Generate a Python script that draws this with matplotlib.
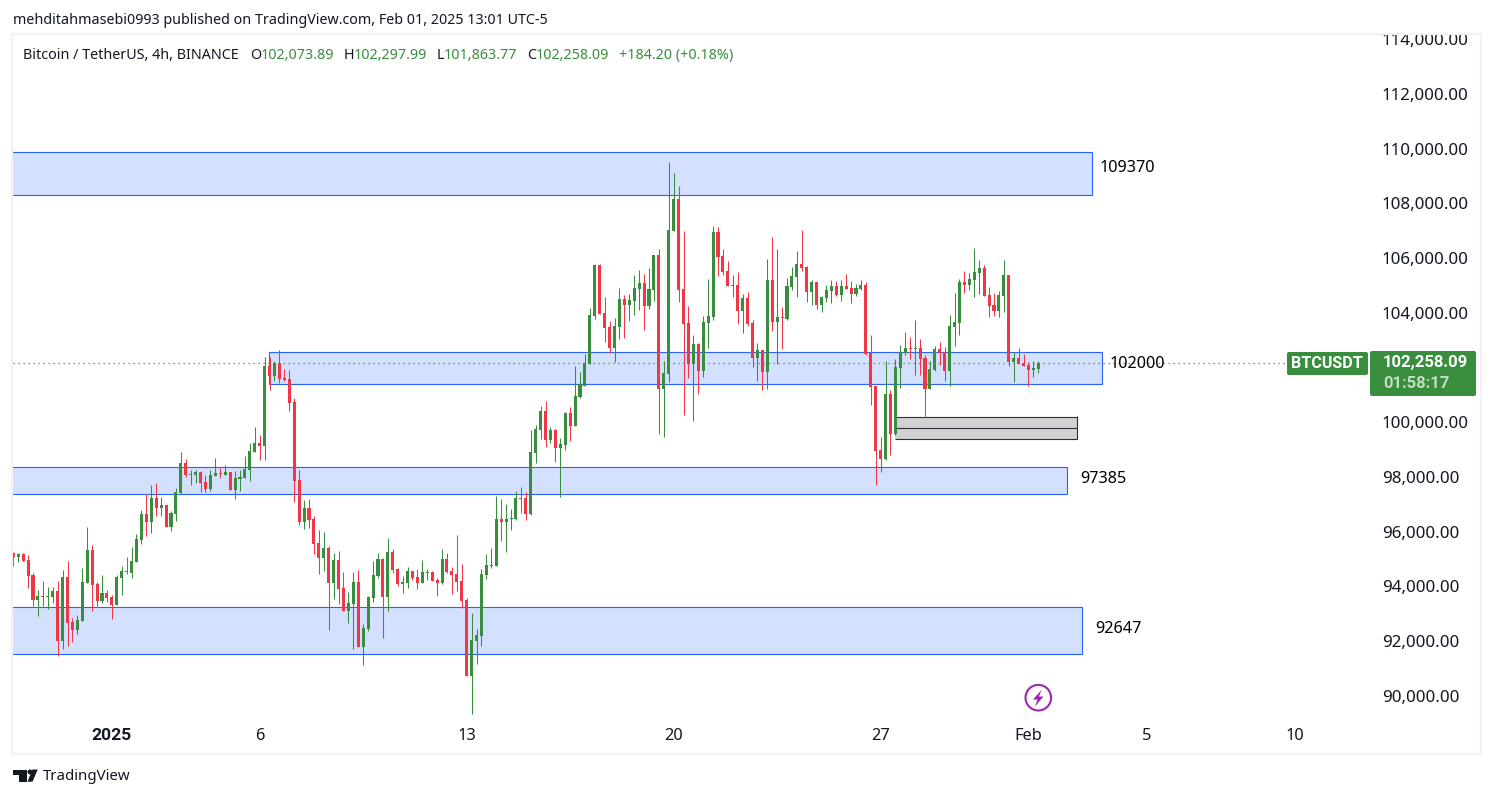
import matplotlib
matplotlib.use("Agg")
import matplotlib.pyplot as plt
from matplotlib.patches import Rectangle, FancyBboxPatch, Circle, Polygon

plt.rcParams['font.family'] = ['Noto Sans', 'DejaVu Sans']

# 4h candles
opens = [95210, 95080, 95190, 94970, 94420, 93510, 93650, 93620, 93620, 93840,
         92010, 94350, 92700, 92410, 92740, 94130, 95330, 94090, 93470, 93760,
         93620, 93320, 94310, 94570, 94490, 94900, 95700, 96650, 96360, 97230,
         96870, 96980, 96170, 96650, 97420, 98510, 98070, 98070, 98180, 97820,
         97560, 98040, 98150, 98070, 98180, 97530, 97930, 97960, 98260, 98910,
         99240, 99130, 102060, 101690, 102170, 101620, 101580, 100740, 97890, 96360,
         96870, 96470, 95590, 95040, 95410, 94130, 94970, 93950, 93100, 93360,
         94170, 91790, 92450, 93580, 94380, 95000, 93620, 95260, 94640, 94090,
         94130, 94570, 94350, 94130, 94490, 94530, 94240, 94130, 95000, 94570,
         94460, 94200, 93510, 90730, 92010, 92190, 94420, 94750, 94750, 96470,
         96360, 96470, 96470, 97230, 97230, 96650, 98880, 99720, 100410, 99350,
         99720, 99060, 99170, 100340, 99860, 100920, 101320, 102130, 103880, 105750,
         103990, 103480, 102710, 103480, 104500, 104280, 104430, 104870, 105090, 104250,
         104830, 106110, 101220, 101760, 106990, 108160, 104870, 103630, 102130, 102860,
         101870, 103630, 103850, 106950, 106070, 105530, 104980, 105010, 104060, 104540,
         103630, 102350, 102640, 101840, 105200, 103660, 103850, 103770, 104940, 105310,
         105780, 105670, 104760, 105120, 104280, 104540, 104790, 104980, 104650, 104980,
         104900, 104690, 104870, 105010, 102530, 101320, 98990, 98660, 101030, 99570,
         101980, 102530, 102710, 102680, 102710, 102350, 101210, 101910, 102680, 102570,
         101870, 103480, 103630, 105120, 105010, 105200, 105450, 105630, 104650, 104280,
         104060, 104610, 105380, 102200, 102350, 102160, 102090, 101910, 101950]
highs = [95260, 95210, 95210, 95150, 94490, 93870, 94200, 93980, 93980, 94200,
         94600, 94930, 92850, 92960, 94680, 96170, 95520, 94170, 94420, 93870,
         93690, 94420, 94750, 95080, 95440, 95920, 96800, 97380, 97710, 97780,
         97270, 96980, 96760, 97600, 98910, 98660, 98260, 98260, 98220, 98070,
         98260, 98690, 98330, 98440, 98180, 98220, 98260, 98770, 99240, 99830,
         99530, 102380, 102380, 102240, 102640, 101950, 101910, 100890, 98260, 97160,
         97200, 96580, 96060, 95990, 95480, 95220, 95300, 94530, 93800, 94530,
         94600, 92630, 93650, 94930, 95220, 95040, 95770, 95370, 94680, 94380,
         94710, 94570, 94640, 94970, 94640, 94570, 94310, 95370, 95220, 94710,
         95880, 94820, 93580, 93030, 92450, 94640, 95190, 95410, 97310, 97200,
         97010, 96830, 97490, 97640, 97450, 99720, 99900, 100590, 100780, 99830,
         99760, 99430, 100380, 100560, 102060, 101840, 102490, 104170, 105780, 105780,
         104580, 103700, 103810, 104900, 104650, 104690, 105380, 105560, 105420, 105640,
         106110, 106330, 102240, 109510, 109110, 108630, 106990, 104250, 103190, 102900,
         103880, 105230, 107170, 107130, 106330, 105890, 105380, 105490, 104690, 104760,
         103740, 102900, 102640, 105960, 106770, 106330, 104210, 105270, 105670, 106260,
         107020, 105710, 105200, 105120, 104610, 105010, 105200, 105160, 105200, 105420,
         105160, 105050, 105200, 105120, 103190, 101320, 99460, 102240, 101180, 102310,
         102820, 103300, 103110, 103740, 103040, 102460, 102240, 102790, 102930, 102750,
         103920, 104720, 105230, 105530, 105450, 106370, 105930, 105740, 104940, 104720,
         104790, 105930, 105380, 102570, 102710, 102490, 102200, 102240, 102240]
lows = [94750, 94900, 94930, 93950, 93290, 92920, 93290, 93180, 93400, 91460,
        91720, 91830, 91970, 92260, 92740, 94130, 93100, 93290, 93400, 93430,
        92810, 93320, 93690, 94460, 94310, 94900, 95550, 95850, 95960, 96580,
        96580, 96170, 96030, 96390, 97380, 98000, 97710, 97780, 97450, 97450,
        97490, 98040, 97960, 98070, 97530, 97200, 97490, 97960, 97850, 98910,
        98620, 98620, 101180, 101510, 101430, 101510, 100410, 97090, 96250, 96100,
        96140, 95190, 94460, 94570, 92410, 93540, 93360, 93100, 92670, 91720,
        91790, 91130, 92370, 93430, 94310, 92120, 93100, 94490, 94020, 93760,
        93950, 94240, 93910, 94130, 94240, 94200, 93650, 94090, 94490, 93730,
        93840, 93220, 90730, 89340, 91170, 91830, 94270, 94680, 94750, 95660,
        95260, 96060, 96430, 96690, 96430, 96600, 98510, 99390, 99100, 99240,
        98550, 97270, 98990, 99320, 99860, 100890, 101320, 102130, 103770, 103950,
        102930, 102530, 102200, 103040, 103080, 103700, 103920, 104100, 103370, 104140,
        104430, 99570, 99460, 101470, 106990, 104390, 100270, 101620, 100050, 101030,
        101650, 102710, 103740, 105340, 105380, 104980, 104580, 103590, 103260, 103520,
        102020, 101510, 101180, 101210, 103330, 102130, 102680, 103740, 104830, 104580,
        105530, 104390, 104280, 104140, 104030, 104390, 104360, 104610, 104430, 104870,
        104360, 104610, 104830, 102460, 100630, 97710, 98180, 98620, 98800, 99530,
        101250, 102460, 102310, 101730, 101730, 100190, 101210, 101870, 102090, 101510,
        101320, 102790, 103190, 104720, 104830, 104580, 104680, 104610, 103840, 103880,
        103840, 104030, 102050, 101470, 102130, 102050, 101320, 101650, 101800]
closes = [95090, 95190, 94930, 94380, 93510, 93650, 93620, 93650, 93840, 92010,
          94350, 92670, 92410, 92780, 94170, 95330, 94050, 93470, 93760, 93580,
          93320, 94350, 94570, 94530, 94930, 95740, 96650, 96360, 97230, 96870,
          96980, 96170, 96690, 97450, 98510, 98070, 98110, 98180, 97780, 97560,
          98070, 98150, 98110, 98180, 97530, 97960, 98000, 98290, 98950, 99240,
          99130, 102060, 101690, 102170, 101580, 101540, 100700, 97850, 96360, 96870,
          96430, 95550, 95040, 95410, 94130, 94970, 93910, 93100, 93400, 94170,
          91790, 92480, 93620, 94420, 95000, 93620, 95260, 94600, 94090, 94170,
          94570, 94310, 94130, 94530, 94530, 94200, 94130, 95000, 94530, 94420,
          94170, 93470, 90730, 92050, 92230, 94460, 94790, 94790, 96470, 96360,
          96470, 96500, 97230, 97200, 96650, 98910, 99750, 100410, 99350, 99720,
          99060, 99210, 100340, 99860, 100960, 101390, 102170, 103920, 105750, 103950,
          103440, 102710, 103520, 104500, 104280, 104470, 104900, 105090, 104250, 104870,
          106110, 101220, 101800, 107020, 108160, 104830, 103590, 102130, 102860, 101870,
          103660, 103880, 106950, 106040, 105490, 104980, 105010, 104060, 104540, 103590,
          102350, 102640, 101840, 105200, 103660, 103850, 103810, 104980, 105340, 105780,
          105640, 104760, 105120, 104280, 104580, 104830, 104980, 104650, 104980, 104870,
          104690, 104900, 105010, 102490, 101290, 98950, 98660, 101030, 99570, 102020,
          102570, 102710, 102680, 102710, 102310, 101210, 101950, 102680, 102530, 101870,
          103520, 103660, 105120, 105010, 105230, 105490, 105630, 104610, 104250, 104060,
          104650, 105380, 102200, 102350, 102130, 102050, 101910, 101980, 102160]

# candle index where each date label sits
date_pos = [20, 50, 92, 134, 176, 206, 230, 260]
date_labels = ['2025', '6', '13', '20', '27', 'Feb', '5', '10']
# 102,000 is hidden behind the price tag on the scale
price_ticks = [90000, 92000, 94000, 96000, 98000, 100000, 104000, 106000, 108000, 110000, 112000, 114000]

# supply/demand zones: candle index start, end, price low, high
zone_start = [-5, 51.9, -5, -5]
zone_end = [218.9, 220.9, 213.8, 216.9]
zone_low = [108300, 101400, 97380, 91530]
zone_high = [109870, 102570, 98370, 93250]
grey_box = [178.9, 215.9, 99390, 99790, 100190]

green = '#388e3c'
red = '#f23645'
blue = '#2962ff'
ink = '#131722'

W, H = 1494, 798
fig = plt.figure(figsize=(W / 100, H / 100), dpi=100, facecolor='white')

# price pane, placed by pixels
L, R, T, B = 13, 1370, 34, 720
ax = fig.add_axes([L / W, 1 - B / H, (R - L) / W, (B - T) / H])
ax.set_xlim(-0.06, 275.3)
ax.set_ylim(89123, 114183)
for s in ax.spines.values():
    s.set_visible(False)

for i in range(len(zone_start)):
    ax.add_patch(Rectangle((zone_start[i], zone_low[i]), zone_end[i] - zone_start[i],
                           zone_high[i] - zone_low[i], fc='#d4e0ff', ec=blue, lw=0.8, zorder=1))

x0, x1, b_lo, b_mid, b_hi = grey_box
ax.add_patch(Rectangle((x0, b_lo), x1 - x0, b_hi - b_lo, fc='#d1d1d3', ec='none', zorder=1))
ax.hlines([b_lo, b_mid, b_hi], x0, x1, color='#2a2e39', lw=0.8, zorder=2)
ax.vlines(x1, b_lo, b_hi + 40, color='#2a2e39', lw=0.8, zorder=2)

xs = list(range(len(opens)))
colors = [green if c >= o else red for o, c in zip(opens, closes)]
ax.vlines(xs, lows, highs, colors=colors, lw=0.75, zorder=3)
ax.bar(xs, [abs(c - o) for o, c in zip(opens, closes)], bottom=[min(o, c) for o, c in zip(opens, closes)],
       width=0.62, color=colors, lw=0, zorder=4, antialiased=False)

ax.axhline(closes[-1], xmax=(1286 - L) / (R - L), color=green, lw=0.9, ls=(0, (1, 3)), zorder=5)

ax.yaxis.tick_right()
ax.set_yticks(price_ticks)
ax.set_yticklabels([f'{p:,.2f}' for p in price_ticks], fontsize=12.2, color=ink)
ax.set_xticks(date_pos)
ax.set_xticklabels(date_labels, fontsize=11.8, color=ink)
ax.tick_params(axis='both', length=0)
ax.tick_params(axis='x', pad=6)
ax.tick_params(axis='y', pad=8.6)
first = ax.get_xticklabels()[0]
first.set_family('Roboto')
first.set_fontweight('bold')
first.set_fontsize(12.6)

# overlay in pixel coordinates for the page furniture
ov = fig.add_axes([0, 0, 1, 1], facecolor='none')
ov.set_xlim(0, W)
ov.set_ylim(H, 0)
ov.axis('off')

frame = '#f2f2f3'
ov.plot([12, 12, 1481, 1481, 12], [34, 754, 754, 34, 34], color=frame, lw=1.6)

ov.text(13, 24.5, 'mehditahmasebi0993 published on TradingView.com, Feb 01, 2025 13:01 UTC-5',
        fontsize=10.25, color=ink, va='baseline')

hdr = [(23, 'Bitcoin / TetherUS, 4h, BINANCE', ink), (250, 'O', ink), (261, '102,073.89', green),
       (344, 'H', ink), (354, '102,297.99', green), (437, 'L', ink), (444, '101,863.77', green),
       (527, 'C', ink), (536, '102,258.09', green), (619, '+184.20 (+0.18%)', green)]
for hx, s, c in hdr:
    ov.text(hx, 59, s, fontsize=10.3, color=c, va='baseline')

for zx, zy, s in [(1100, 168, '109370'), (1110, 364, '102000'), (1080, 479, '97385'), (1095, 629, '92647')]:
    ov.text(zx, zy, s, fontsize=11.7, color='black', va='center')

ov.add_patch(FancyBboxPatch((1287, 352), 81, 23, boxstyle='round,pad=0,rounding_size=2', fc=green, ec='none'))
ov.add_patch(FancyBboxPatch((1370, 351), 106, 45, boxstyle='round,pad=0,rounding_size=2', fc=green, ec='none'))
ov.text(1327, 364, 'BTCUSDT', fontsize=11.6, color='white', ha='center', va='center',
        family='Roboto', fontweight='bold')
ov.text(1383, 363, '102,258.09', fontsize=12, color='white', va='center', family='Roboto', fontweight='bold')
ov.text(1383, 383, '01:58:17', fontsize=12, color='#c3ddc4', va='center', family='Roboto', fontweight='bold')

# lightning badge
ov.add_patch(Circle((1038.3, 697.7), 12.8, fc='white', ec='#9c27b0', lw=1.5))
ov.add_patch(Polygon([(1041.5, 690), (1033, 699.5), (1037.5, 699.5), (1035, 706.5), (1043.5, 696.5), (1039, 696.5)],
                     fc='#9c27b0', ec='none'))

# TradingView mark
ov.add_patch(Polygon([(13.3, 769.5), (26.7, 769.5), (26.7, 781.7), (19.3, 781.7), (19.3, 774.5), (13.3, 774.5)],
                     fc=ink, ec='none'))
ov.add_patch(Circle((30, 772), 2.5, fc=ink, ec='none'))
ov.add_patch(Polygon([(32.5, 769.5), (37.7, 769.5), (32.5, 781.7), (27.5, 781.7)], fc=ink, ec='none'))
ov.text(43, 776.5, 'TradingView', fontsize=10.8, color=ink, va='center')

fig.savefig('out.png', dpi=100)
